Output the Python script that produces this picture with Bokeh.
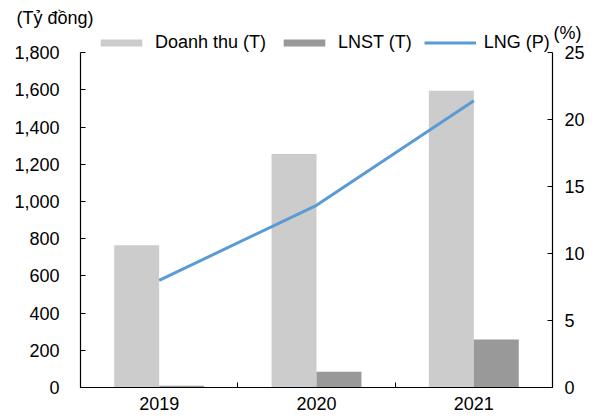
import numpy as np
from bokeh.plotting import figure
from bokeh.models import (ColumnDataSource, Range1d, LinearAxis, FixedTicker,
                          NumeralTickFormatter, Legend, LegendItem, Title)
from bokeh.transform import dodge
from bokeh.embed import file_html
from bokeh.resources import INLINE

years = ["2019", "2020", "2021"]
revenue = [765, 1255, 1595]        # Doanh thu (T), tỷ đồng
profit = [10, 85, 258]             # LNST (T), tỷ đồng
margin = [8.0, 13.6, 21.4]         # LNG (P), %
left_ticks = [0, 200, 400, 600, 800, 1000, 1200, 1400, 1600, 1800]
right_ticks = [0, 5, 10, 15, 20, 25]

FONT = "Liberation Sans"
FS = "18px"
AXIS_COLOR = "#000000"
HEAD = 1.06   # room above the axes for the legend

xc = np.arange(len(years)) + 0.5
src = ColumnDataSource(dict(x=xc, revenue=revenue, profit=profit, margin=margin))

lmax, rmax = left_ticks[-1], right_ticks[-1]
p = figure(width=595, height=417, output_backend="svg", toolbar_location=None,
           x_range=Range1d(0, len(years)), y_range=Range1d(0, lmax * HEAD),
           min_border_left=80, min_border_right=43, min_border_top=32,
           min_border_bottom=30)
p.outline_line_color = None
p.grid.grid_line_color = None
p.extra_y_ranges = {"pct": Range1d(0, rmax * HEAD)}

bw = 0.2857
r1 = p.vbar(x=dodge("x", -bw / 2, range=p.x_range), top="revenue", width=bw,
            source=src, fill_color="#CCCCCC", line_color=None)
r2 = p.vbar(x=dodge("x", bw / 2, range=p.x_range), top="profit", width=bw,
            source=src, fill_color="#999999", line_color=None)
r3 = p.line(x="x", y="margin", source=src, y_range_name="pct",
            line_color="#5B9BD5", line_width=3)

# bottom axis: labels at centers, ticks at category boundaries (pointing up)
xa = p.xaxis[0]
xa.ticker = FixedTicker(ticks=list(xc), minor_ticks=list(range(len(years) + 1)))
xa.major_label_overrides = {float(v): y for v, y in zip(xc, years)}
xa.major_tick_in = 0
xa.major_tick_out = 0
xa.minor_tick_in = 5
xa.minor_tick_out = 0
xa.major_label_standoff = 9

ya = p.yaxis[0]
ya.ticker = FixedTicker(ticks=left_ticks)
ya.formatter = NumeralTickFormatter(format="0,0")
ya.bounds = (0, lmax)
ya.major_tick_in = 5
ya.major_tick_out = 0
ya.major_label_standoff = 21

ra = LinearAxis(y_range_name="pct", ticker=FixedTicker(ticks=right_ticks),
                bounds=(0, rmax))
ra.major_tick_in = 5
ra.major_tick_out = 0
ra.major_label_standoff = 12
p.add_layout(ra, "right")

for ax in [xa, ya, ra]:
    ax.axis_line_color = AXIS_COLOR
    ax.axis_line_width = 1.2
    ax.major_tick_line_color = AXIS_COLOR
    ax.minor_tick_line_color = AXIS_COLOR if ax is xa else None
    ax.major_label_text_font = FONT
    ax.major_label_text_font_size = FS
    ax.major_label_text_color = "#000000"

legend = Legend(items=[LegendItem(label="Doanh thu (T)", renderers=[r1]),
                       LegendItem(label="LNST (T)", renderers=[r2]),
                       LegendItem(label="LNG (P)", renderers=[r3])],
                orientation="horizontal", location=(15, 334),
                glyph_width=52, glyph_height=9, label_height=20,
                label_standoff=8, spacing=12, padding=0, margin=0,
                border_line_color=None, background_fill_alpha=0,
                label_text_font=FONT, label_text_font_size=FS,
                label_text_color="#000000")
p.add_layout(legend, "center")

t_pct = Title(text="(%)", align="right", offset=-29, standoff=-20,
              text_font=FONT, text_font_size=FS, text_font_style="normal",
              text_color="#000000")
p.add_layout(t_pct, "above")
t_unit = Title(text="(Tỷ đồng)", align="left", offset=-64, standoff=6,
               text_font=FONT, text_font_size=FS, text_font_style="normal",
               text_color="#000000")
p.add_layout(t_unit, "above")

open("out.html", "w").write(file_html(p, INLINE))
